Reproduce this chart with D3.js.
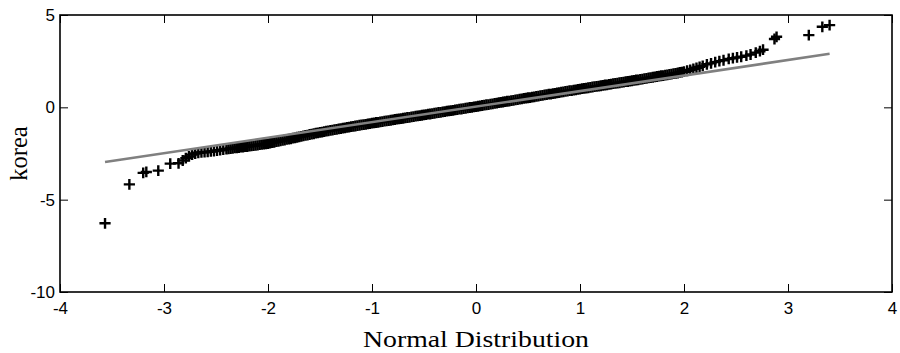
<!DOCTYPE html>
<html>
<head>
<meta charset="utf-8">
<script src="https://cdn.jsdelivr.net/npm/d3@7"></script>
<style>
  html, body { margin: 0; padding: 0; background: #fff; }
  svg { display: block; }
</style>
</head>
<body>
<svg id="chart" width="900" height="353"></svg>
<script>
// ---- data ----
const xTicks = [-4, -3, -2, -1, 0, 1, 2, 3, 4];
const yTicks = [-10, -5, 0, 5];
const xLabel = "Normal Distribution";
const yLabel = "korea";

const lowTailX = [-3.567, -3.333, -3.20, -3.17, -3.055, -2.94, -2.86, -2.82, -2.79, -2.76, -2.73, -2.70,
  -2.67, -2.64, -2.61, -2.58, -2.55, -2.52, -2.49, -2.46, -2.43];
const lowTailY = [-6.28, -4.17, -3.55, -3.50, -3.43, -3.05, -3.03, -2.88, -2.75, -2.66, -2.56, -2.50,
  -2.46, -2.44, -2.43, -2.41, -2.39, -2.37, -2.34, -2.32, -2.29];

const bandX = [
  -2.40, -2.38, -2.36, -2.34, -2.32, -2.30, -2.28, -2.26, -2.24, -2.22,
  -2.20, -2.18, -2.16, -2.14, -2.12, -2.10, -2.08, -2.06, -2.04, -2.02,
  -2.00, -1.98, -1.96, -1.94, -1.92, -1.90, -1.88, -1.86, -1.84, -1.82,
  -1.80, -1.78, -1.76, -1.74, -1.72, -1.70, -1.68, -1.66, -1.64, -1.62,
  -1.60, -1.58, -1.56, -1.54, -1.52, -1.50, -1.48, -1.46, -1.44, -1.42,
  -1.40, -1.38, -1.36, -1.34, -1.32, -1.30, -1.28, -1.26, -1.24, -1.22,
  -1.20, -1.18, -1.16, -1.14, -1.12, -1.10, -1.08, -1.06, -1.04, -1.02,
  -1.00, -0.98, -0.96, -0.94, -0.92, -0.90, -0.88, -0.86, -0.84, -0.82,
  -0.80, -0.78, -0.76, -0.74, -0.72, -0.70, -0.68, -0.66, -0.64, -0.62,
  -0.60, -0.58, -0.56, -0.54, -0.52, -0.50, -0.48, -0.46, -0.44, -0.42,
  -0.40, -0.38, -0.36, -0.34, -0.32, -0.30, -0.28, -0.26, -0.24, -0.22,
  -0.20, -0.18, -0.16, -0.14, -0.12, -0.10, -0.08, -0.06, -0.04, -0.02,
  0.00, 0.02, 0.04, 0.06, 0.08, 0.10, 0.12, 0.14, 0.16, 0.18,
  0.20, 0.22, 0.24, 0.26, 0.28, 0.30, 0.32, 0.34, 0.36, 0.38,
  0.40, 0.42, 0.44, 0.46, 0.48, 0.50, 0.52, 0.54, 0.56, 0.58,
  0.60, 0.62, 0.64, 0.66, 0.68, 0.70, 0.72, 0.74, 0.76, 0.78,
  0.80, 0.82, 0.84, 0.86, 0.88, 0.90, 0.92, 0.94, 0.96, 0.98,
  1.00, 1.02, 1.04, 1.06, 1.08, 1.10, 1.12, 1.14, 1.16, 1.18,
  1.20, 1.22, 1.24, 1.26, 1.28, 1.30, 1.32, 1.34, 1.36, 1.38,
  1.40, 1.42, 1.44, 1.46, 1.48, 1.50, 1.52, 1.54, 1.56, 1.58,
  1.60, 1.62, 1.64, 1.66, 1.68, 1.70, 1.72, 1.74, 1.76, 1.78,
  1.80, 1.82, 1.84, 1.86, 1.88, 1.90, 1.92, 1.94, 1.96, 1.98,
  2.00, 2.03, 2.06, 2.09, 2.12, 2.15, 2.18
];
const bandY = [
  -2.26, -2.25, -2.23, -2.22, -2.20, -2.19, -2.18, -2.16, -2.15, -2.13,
  -2.12, -2.10, -2.09, -2.07, -2.06, -2.04, -2.02, -2.01, -1.99, -1.98,
  -1.96, -1.94, -1.91, -1.89, -1.86, -1.84, -1.82, -1.79, -1.77, -1.74,
  -1.72, -1.70, -1.67, -1.65, -1.62, -1.60, -1.57, -1.55, -1.52, -1.50,
  -1.47, -1.45, -1.43, -1.40, -1.38, -1.36, -1.34, -1.32, -1.29, -1.27,
  -1.25, -1.23, -1.21, -1.19, -1.17, -1.15, -1.13, -1.11, -1.09, -1.07,
  -1.05, -1.03, -1.01, -0.99, -0.97, -0.95, -0.94, -0.92, -0.90, -0.88,
  -0.86, -0.84, -0.82, -0.81, -0.79, -0.77, -0.75, -0.73, -0.72, -0.70,
  -0.68, -0.66, -0.64, -0.63, -0.61, -0.59, -0.57, -0.55, -0.54, -0.52,
  -0.50, -0.48, -0.46, -0.45, -0.43, -0.41, -0.39, -0.37, -0.36, -0.34,
  -0.32, -0.30, -0.28, -0.27, -0.25, -0.23, -0.21, -0.19, -0.18, -0.16,
  -0.14, -0.12, -0.10, -0.09, -0.07, -0.05, -0.03, -0.01, 0.00, 0.02,
  0.04, 0.06, 0.08, 0.10, 0.12, 0.14, 0.15, 0.17, 0.19, 0.21,
  0.23, 0.25, 0.27, 0.29, 0.31, 0.33, 0.34, 0.36, 0.38, 0.40,
  0.42, 0.44, 0.46, 0.48, 0.50, 0.52, 0.53, 0.55, 0.57, 0.59,
  0.61, 0.63, 0.65, 0.67, 0.69, 0.71, 0.72, 0.74, 0.76, 0.78,
  0.80, 0.82, 0.84, 0.86, 0.88, 0.90, 0.91, 0.93, 0.95, 0.97,
  0.99, 1.01, 1.03, 1.04, 1.06, 1.08, 1.10, 1.12, 1.13, 1.15,
  1.17, 1.19, 1.21, 1.22, 1.24, 1.26, 1.28, 1.30, 1.31, 1.33,
  1.35, 1.37, 1.39, 1.40, 1.42, 1.44, 1.46, 1.48, 1.49, 1.51,
  1.53, 1.55, 1.57, 1.59, 1.61, 1.63, 1.65, 1.67, 1.69, 1.71,
  1.72, 1.74, 1.76, 1.78, 1.80, 1.82, 1.84, 1.86, 1.89, 1.91,
  1.93, 1.98, 2.03, 2.08, 2.14, 2.19, 2.24
];

const highTailX = [2.22, 2.26, 2.30, 2.34, 2.38, 2.43, 2.47, 2.51, 2.55, 2.60, 2.64, 2.69, 2.73, 2.76, 2.87, 2.89, 3.20, 3.33, 3.40];
const highTailY = [2.33, 2.38, 2.45, 2.50, 2.55, 2.62, 2.66, 2.70, 2.74, 2.80, 2.86, 2.96, 3.04, 3.12, 3.70, 3.82, 3.91, 4.36, 4.45];

const fitX = [-3.567, 3.40];
const fitY = [-2.96, 2.90];

// ---- layout ----
const plot = { left: 60, right: 892, top: 15, bottom: 292 };
const svg = d3.select("#chart");

const x = d3.scaleLinear().domain([-4, 4]).range([plot.left, plot.right]);
const y = d3.scaleLinear().domain([-10, 5]).range([plot.bottom, plot.top]);

// points
const pts = [];
[[lowTailX, lowTailY], [bandX, bandY], [highTailX, highTailY]].forEach(([xs, ys]) => {
  xs.forEach((v, i) => pts.push([v, ys[i]]));
});

const plus = "M-5.6,0H5.6M0,-5.4V5.4";
svg.append("g")
  .selectAll("path")
  .data(pts)
  .join("path")
  .attr("d", plus)
  .attr("transform", d => `translate(${x(d[0])},${y(d[1])})`)
  .attr("fill", "none")
  .attr("stroke", "#000")
  .attr("stroke-width", 2.4);

// fit line on top
svg.append("path")
  .datum(fitX.map((v, i) => [v, fitY[i]]))
  .attr("d", d3.line().x(d => x(d[0])).y(d => y(d[1])))
  .attr("fill", "none")
  .attr("stroke", "#808080")
  .attr("stroke-width", 2.6);

// axes
const fmt = d => String(d);
const tickLen = 8;
const axB = svg.append("g").attr("transform", `translate(0,${plot.bottom})`)
  .call(d3.axisBottom(x).tickValues(xTicks).tickFormat(fmt).tickSizeInner(-tickLen).tickSizeOuter(0).tickPadding(10));
const axT = svg.append("g").attr("transform", `translate(0,${plot.top})`)
  .call(d3.axisTop(x).tickValues(xTicks).tickFormat("").tickSizeInner(-tickLen).tickSizeOuter(0));
const axL = svg.append("g").attr("transform", `translate(${plot.left},0)`)
  .call(d3.axisLeft(y).tickValues(yTicks).tickFormat(fmt).tickSizeInner(-tickLen).tickSizeOuter(0).tickPadding(5));
const axR = svg.append("g").attr("transform", `translate(${plot.right},0)`)
  .call(d3.axisRight(y).tickValues(yTicks).tickFormat("").tickSizeInner(-tickLen).tickSizeOuter(0));

[axB, axT, axL, axR].forEach(g => {
  g.select(".domain").remove();
  g.selectAll(".tick line").attr("stroke", "#000").attr("stroke-width", 1);
  g.selectAll(".tick text")
    .attr("fill", "#000")
    .attr("font-family", "'Liberation Sans', Arial, sans-serif")
    .attr("font-size", 17);
});

// box
svg.append("rect")
  .attr("x", plot.left).attr("y", plot.top)
  .attr("width", plot.right - plot.left).attr("height", plot.bottom - plot.top)
  .attr("fill", "none").attr("stroke", "#000").attr("stroke-width", 1.6);

// labels
svg.append("text")
  .attr("x", (plot.left + plot.right) / 2)
  .attr("y", 347)
  .attr("text-anchor", "middle")
  .attr("font-family", "'Liberation Serif', 'Times New Roman', serif")
  .attr("font-size", 24)
  .attr("textLength", 226)
  .attr("lengthAdjust", "spacingAndGlyphs")
  .attr("fill", "#000")
  .text(xLabel);

svg.append("text")
  .attr("transform", `translate(26.5,${(plot.top + plot.bottom) / 2}) rotate(-90)`)
  .attr("text-anchor", "middle")
  .attr("font-family", "'Liberation Serif', 'Times New Roman', serif")
  .attr("font-size", 24.5)
  .attr("fill", "#000")
  .text(yLabel);
</script>
</body>
</html>
